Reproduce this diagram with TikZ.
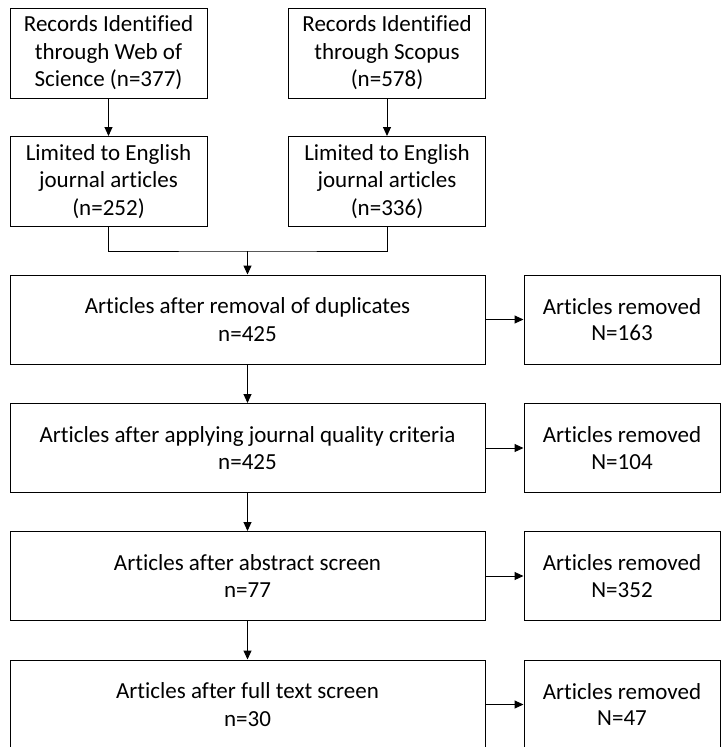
\documentclass[tikz,border=0pt]{standalone}
\usepackage{fontspec}
\setmainfont{Carlito}[Ligatures=NoCommon]
\usepackage{tikz}
\usetikzlibrary{positioning, arrows.meta, shapes.geometric}
\tikzset{% 
	>={Triangle[width=8pt, length=9pt]},
	every edge/.append style={line width = 1pt},
	rec/.style = {name = #1, rectangle, draw, line width = 1pt, minimum width = 197pt, minimum height = 90pt, align = center, inner sep = 0pt, font = \fontsize{23}{27.5}\selectfont},
	big/.style = {rec = #1, minimum width = 475pt, minimum height = 89pt},
	rem/.style = {rec = #1, minimum width = 196pt, minimum height = 89pt, font = \fontsize{23}{26.5}\selectfont}
}
\begin{document}
\begin{tikzpicture}[x=1pt, y=-1pt]
			\useasboundingbox (0,0) rectangle (721,747);
			\node [rec = {wos}] at (108.5,53) {Records Identified\\through Web of\\Science (n=377)};
			\node [rec = {sco}] at (387,53) {Records Identified\\through Scopus\\(n=578)};
			\node [rec = {woseng}] at (108.5,181.5) {Limited to English\\journal articles\\(n=252)};
			\node [rec = {scoeng}] at (387,181.5) {Limited to English\\journal articles\\(n=336)};
			\node [big = {dup}] at (247.5,319.5) {Articles after removal of duplicates\\n=425};
			\node [big = {qual}] at (247.5,448) {Articles after applying journal quality criteria\\n=425};
			\node [big = {abs}] at (247.5,576) {Articles after abstract screen\\n=77};
			\node [big = {full}] at (247.5,704.5) {Articles after full text screen\\n=30};
			\node [rem = {remdup}] at (622,319.5) {Articles removed\\N=163};
			\node [rem = {remqual}] at (622,448) {Articles removed\\N=104};
			\node [rem = {remabs}] at (622,576) {Articles removed\\N=352};
			\node [rem = {remfull}] at (622,704.5) {Articles removed\\N=47};
			\coordinate (join) at (247.5,251);
			\path [->] (wos) edge (woseng);
			\path [->] (sco) edge (scoeng);
			\draw [line width = 1pt] (woseng.south) |- (join) -| (scoeng.south);
			\path [->] (join) edge (dup);
			\path [->] (dup) edge (qual);
			\path [->] (qual) edge (abs);
			\path [->] (abs) edge (full);
			\path [->] (dup) edge (remdup);
			\path [->] (qual) edge (remqual);
			\path [->] (abs) edge (remabs);
			\path [->] (full) edge (remfull);
			\end{tikzpicture}
\end{document}
